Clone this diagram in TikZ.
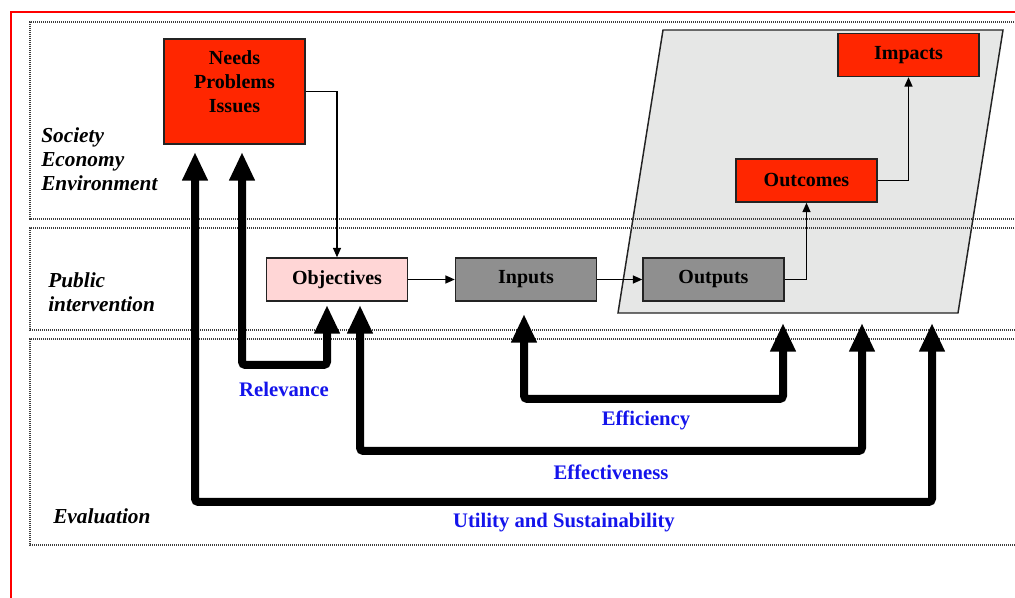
\documentclass[tikz,border=0pt]{standalone}
\usepackage{fontspec}
\setmainfont{Liberation Serif}
\usetikzlibrary{arrows.meta}
\definecolor{boxred}{RGB}{255,38,0}
\definecolor{boxpink}{RGB}{255,214,214}
\definecolor{boxgray}{RGB}{143,143,143}
\definecolor{paragray}{RGB}{230,231,230}
\definecolor{lblblue}{RGB}{20,20,235}
\definecolor{edgegray}{RGB}{35,35,35}
\definecolor{dotgray}{RGB}{60,60,60}
\begin{document}
\begin{tikzpicture}[x=0.75pt,y=-0.75pt,
  box/.style={draw=edgegray, line width=1.1pt, inner sep=0pt,
    minimum width=105.75pt, minimum height=32.25pt,
    font=\fontsize{15}{18}\selectfont\bfseries},
  redbox/.style={box, fill=boxred},
  pinkbox/.style={box, fill=boxpink},
  graybox/.style={box, fill=boxgray},
  band/.style={draw=dotgray, line width=0.8pt, dash pattern=on 0.8pt off 0.7pt},
  bandlabel/.style={anchor=west, align=left, inner sep=0pt,
    font=\fontsize{16}{18}\selectfont\bfseries\itshape},
  critlabel/.style={text=lblblue, inner sep=0pt,
    font=\fontsize{15.5}{18}\selectfont\bfseries},
  link/.style={draw=black, line width=0.9pt, -{Triangle[length=7pt,width=6pt]}},
  big/.style={line width=6pt, rounded corners=2.5pt,
    {Triangle[length=21.5pt,width=18pt]}-{Triangle[length=21.5pt,width=18pt]}}
]
\useasboundingbox (0,0) rectangle (1015,598);
% red frame
\draw[red, line width=1.8pt] (1030,12) -- (11,12) -- (11,620);
% results parallelogram
\draw[fill=paragray, draw=edgegray, line width=1.1pt]
  (663,30) -- (1003,30) -- (958,313) -- (618,313) -- cycle;
% bands
\draw[band] (1030,22) -- (30,22) -- (30,219) -- (1030,219);
\draw[band] (1030,228) -- (30,228) -- (30,330) -- (1030,330);
\draw[band] (1030,339) -- (30,339) -- (30,545) -- (1030,545);
% band labels
\node[bandlabel] (lblsoc) at (41,159) {Society\\Economy\\Environment};
\node[bandlabel] (lblpub) at (48,292) {Public\\intervention};
\node[bandlabel] (lbleval) at (53,516) {Evaluation};
% boxes
\node[redbox, minimum height=78.75pt] (needs) at (234.5,91.5) {};
\node[align=center, inner sep=0pt, font=\fontsize{15}{18}\selectfont\bfseries]
  (needstxt) at (234.5,82) {Needs\\Problems\\Issues};
\node[pinkbox] (obj) at (337,279.5) {Objectives};
\node[graybox] (inputs) at (526,279.5) {Inputs};
\node[graybox] (outputs) at (713.5,279.5) {Outputs};
\node[redbox] (outcomes) at (806.5,180.5) {Outcomes};
\node[redbox] (impacts) at (908.5,55) {Impacts};
% thin links
\draw[link] (needs.east) -| (obj.north);
\draw[link] (obj.east) -- (inputs.west);
\draw[link] (inputs.east) -- (outputs.west);
\draw[link] (outputs.east) -| (outcomes.south);
\draw[link] (outcomes.east) -| (impacts.south);
% tip coordinates of evaluation arrows
\coordinate (utilL) at (195,152);
\coordinate (relL) at (242,152);
\coordinate (relR) at (327,305);
\coordinate (effvL) at (360,305);
\coordinate (efcL) at (524,314);
\coordinate (efcR) at (783,323);
\coordinate (effvR) at (862,323);
\coordinate (utilR) at (932,323);
% evaluation arrows
\draw[big] (relR) |- (284,365) -| (relL);
\draw[big] (efcL) |- (650,399) -| (efcR);
\draw[big] (effvL) |- (610,451) -| (effvR);
\draw[big] (utilL) |- (560,502) -| (utilR);
% criterion labels
\node[critlabel] (relevance) at (284,389) {Relevance};
\node[critlabel] (efficiency) at (646,420) {Efficiency};
\node[critlabel] (effectiveness) at (611,472) {Effectiveness};
\node[critlabel] (utility) at (564,523) {Utility and Sustainability};
\end{tikzpicture}
\end{document}
